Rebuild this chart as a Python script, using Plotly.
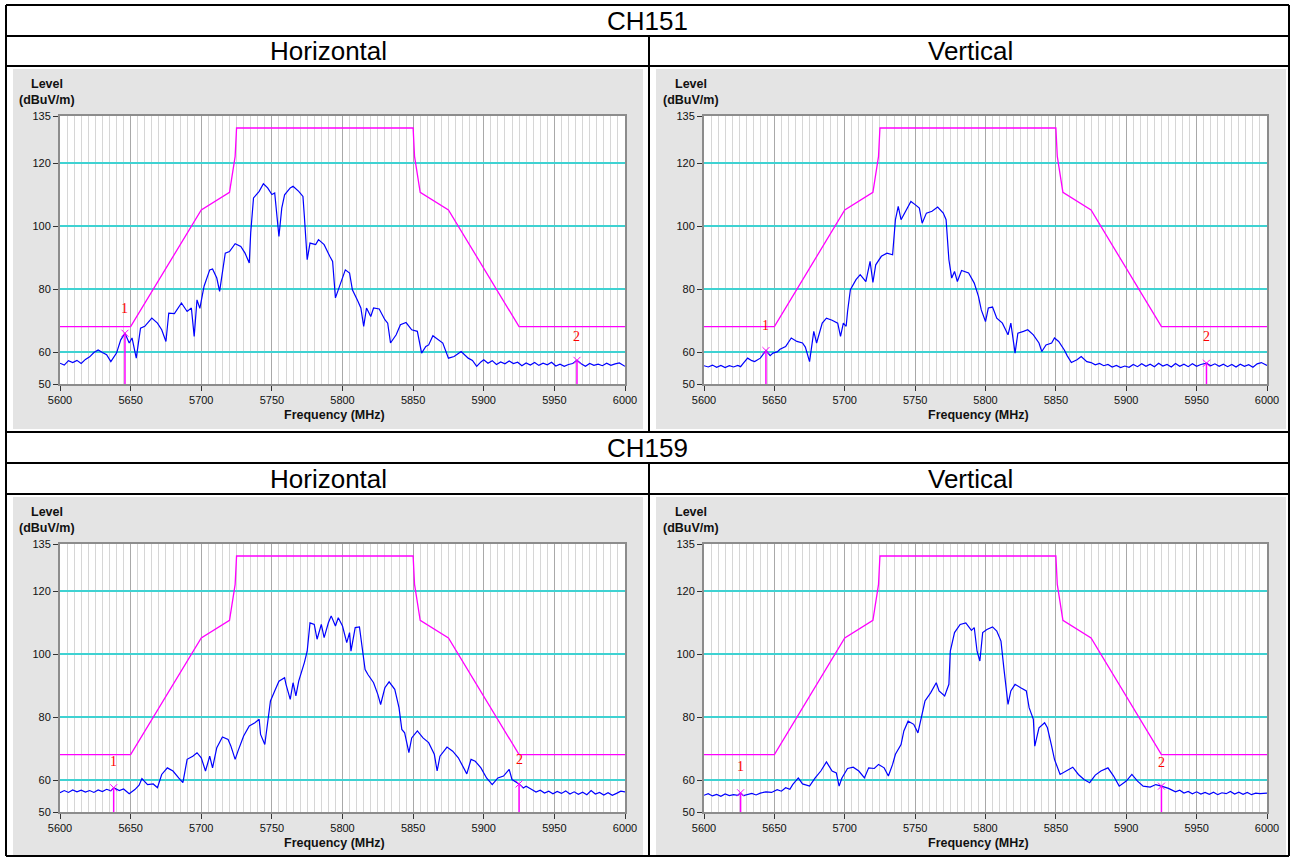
import plotly.graph_objects as go

# ---------------- data ----------------
limit_freq = [5600, 5650, 5700, 5720, 5724, 5725, 5850, 5851, 5855, 5875, 5925, 6000]
limit_level = [68.2, 68.2, 105.2, 110.8, 122.2, 131.2, 131.2, 122.2, 110.8, 105.2, 68.2, 68.2]

h151_freq = [5600, 5603, 5606, 5609, 5612, 5615, 5618, 5621, 5624, 5627, 5630, 5633, 5636, 5638, 5640, 5643, 5646, 5649, 5651, 5654,
             5657, 5660, 5665, 5669, 5672, 5675, 5677, 5681, 5686, 5690, 5693, 5695, 5697, 5699, 5702, 5706, 5708, 5711, 5713, 5717,
             5720, 5724, 5728, 5731, 5734, 5735, 5737, 5741, 5744, 5747, 5750, 5752, 5754, 5755, 5757, 5759, 5763, 5765, 5769, 5772,
             5773, 5775, 5777, 5781, 5783, 5787, 5791, 5793, 5795, 5798, 5802, 5805, 5807, 5811, 5813, 5815, 5817, 5820, 5822, 5826,
             5830, 5832, 5834, 5838, 5841, 5845, 5849, 5853, 5856, 5859, 5861, 5864, 5868, 5871, 5875, 5879, 5884, 5889, 5892, 5895,
             5898, 5900, 5903, 5906, 5909, 5912, 5915, 5918, 5921, 5924, 5927, 5930, 5933, 5936, 5939, 5942, 5945, 5948, 5951, 5954,
             5957, 5960, 5963, 5966, 5969, 5972, 5975, 5978, 5981, 5984, 5987, 5990, 5993, 5996, 6000]
h151_level = [56.6, 56.0, 57.4, 56.8, 57.5, 56.5, 57.8, 58.6, 60.0, 60.8, 60.0, 59.3, 57.1, 58.6, 59.8, 64.0, 66.1, 63.0, 64.6, 58.2,
              67.7, 68.3, 70.9, 69.3, 67.2, 63.5, 72.5, 72.3, 75.7, 73.0, 74.1, 65.1, 76.7, 74.0, 81.0, 86.2, 86.5, 83.6, 79.4, 91.5,
              92.0, 94.5, 93.6, 91.5, 88.4, 97.9, 109.0, 111.1, 113.5, 112.2, 110.1, 110.6, 101.0, 96.8, 105.8, 110.0, 112.2, 112.7, 111.1, 109.5,
              103.2, 89.4, 94.7, 94.2, 95.8, 94.2, 90.5, 88.9, 77.3, 81.0, 86.2, 85.2, 79.9, 76.2, 74.1, 68.3, 74.1, 71.4, 74.1, 73.8,
              70.4, 69.3, 63.0, 65.6, 68.8, 69.5, 67.2, 66.7, 59.8, 61.9, 62.4, 65.3, 64.0, 63.0, 58.2, 58.7, 60.3, 58.2, 57.5, 55.6,
              57.0, 57.7, 56.6, 57.4, 56.2, 57.0, 56.4, 57.3, 56.5, 56.9, 55.8, 56.7, 56.0, 56.8, 55.9, 56.6, 56.1, 56.9, 55.7, 56.3,
              55.6, 56.2, 56.5, 57.5, 56.4, 55.6, 56.5, 55.9, 56.3, 55.8, 56.6, 55.9, 56.4, 56.7, 55.6]

v151_freq = [5600, 5603, 5606, 5609, 5612, 5615, 5618, 5621, 5624, 5626, 5628, 5631, 5634, 5636, 5640, 5644, 5647, 5649, 5652, 5654,
             5658, 5662, 5666, 5670, 5672, 5675, 5678, 5680, 5684, 5687, 5691, 5695, 5697, 5699, 5701, 5702, 5704, 5708, 5711, 5715,
             5718, 5720, 5722, 5726, 5730, 5734, 5736, 5738, 5740, 5743, 5747, 5750, 5753, 5755, 5758, 5762, 5766, 5770, 5772, 5774,
             5776, 5778, 5780, 5783, 5788, 5792, 5795, 5797, 5800, 5802, 5805, 5808, 5812, 5816, 5818, 5821, 5823, 5827, 5830, 5834,
             5838, 5840, 5843, 5847, 5849, 5852, 5856, 5858, 5861, 5865, 5868, 5872, 5875, 5878, 5881, 5884, 5887, 5890, 5893, 5896,
             5899, 5902, 5905, 5908, 5911, 5914, 5917, 5920, 5923, 5926, 5929, 5932, 5935, 5938, 5941, 5944, 5947, 5950, 5953, 5957,
             5960, 5963, 5966, 5969, 5972, 5975, 5978, 5981, 5984, 5987, 5990, 5993, 5996, 6000]
v151_level = [55.8, 55.4, 56.0, 55.3, 55.9, 55.2, 55.8, 55.4, 55.9, 55.5, 56.6, 58.2, 57.4, 57.1, 58.2, 60.6, 59.0, 59.8, 60.2, 61.0,
              61.9, 64.6, 63.5, 63.0, 61.7, 57.1, 66.7, 63.0, 69.3, 70.9, 70.2, 69.3, 65.1, 69.3, 68.3, 73.0, 79.9, 83.1, 84.7, 82.5,
              88.9, 82.2, 87.8, 90.5, 91.5, 91.0, 102.1, 106.3, 102.1, 104.8, 107.9, 106.9, 105.8, 101.0, 104.2, 104.8, 106.1, 104.2, 102.1, 89.4,
              83.6, 85.7, 82.5, 86.0, 85.2, 82.0, 77.8, 73.5, 69.8, 74.1, 74.4, 70.9, 69.3, 65.6, 69.3, 59.8, 66.1, 66.7, 67.2, 65.6,
              63.0, 60.3, 62.4, 63.0, 64.6, 63.5, 60.8, 59.0, 56.8, 57.7, 58.7, 57.1, 56.8, 56.1, 56.5, 55.8, 56.2, 55.4, 55.9, 55.2,
              55.7, 55.3, 56.2, 55.5, 56.4, 55.6, 56.3, 55.5, 56.6, 55.7, 56.2, 55.4, 56.5, 55.6, 56.3, 55.5, 56.4, 55.6, 56.2, 56.6,
              55.8, 56.4, 55.6, 56.3, 55.5, 56.2, 55.4, 56.3, 55.6, 56.1, 55.3, 56.4, 56.8, 55.9]

h159_freq = [5600, 5603, 5606, 5609, 5612, 5615, 5618, 5621, 5624, 5627, 5630, 5633, 5636, 5638, 5642, 5645, 5649, 5653, 5656, 5658,
             5662, 5666, 5669, 5672, 5676, 5680, 5684, 5687, 5690, 5694, 5697, 5700, 5703, 5706, 5708, 5711, 5715, 5719, 5721, 5724,
             5726, 5730, 5734, 5738, 5741, 5742, 5745, 5747, 5749, 5752, 5755, 5759, 5760, 5763, 5765, 5767, 5769, 5773, 5775, 5777,
             5780, 5782, 5785, 5787, 5790, 5792, 5795, 5797, 5800, 5803, 5805, 5806, 5809, 5812, 5814, 5816, 5818, 5822, 5825, 5827,
             5830, 5833, 5837, 5840, 5842, 5844, 5847, 5849, 5853, 5857, 5861, 5865, 5867, 5869, 5874, 5878, 5882, 5886, 5888, 5891,
             5894, 5898, 5902, 5906, 5910, 5914, 5918, 5920, 5923, 5925, 5928, 5930, 5934, 5937, 5940, 5943, 5946, 5949, 5952, 5955,
             5958, 5961, 5964, 5967, 5970, 5973, 5976, 5979, 5982, 5985, 5988, 5991, 5994, 5997, 6000]
h159_level = [56.1, 56.8, 56.2, 57.0, 56.4, 56.9, 56.3, 56.8, 56.2, 57.0, 56.5, 57.2, 56.7, 57.7, 56.8, 57.3, 55.8, 57.1, 58.5, 60.6,
              58.7, 58.9, 57.7, 61.9, 64.0, 63.0, 60.8, 59.3, 66.7, 67.7, 68.8, 67.2, 63.0, 67.7, 64.0, 70.4, 73.8, 73.0, 70.9, 66.7,
              69.3, 74.1, 77.3, 78.3, 79.4, 74.6, 71.4, 78.3, 85.2, 88.4, 91.5, 92.6, 90.5, 85.7, 91.0, 86.8, 91.5, 97.4, 101.0, 110.0,
              109.5, 104.8, 109.5, 105.3, 110.0, 112.2, 109.0, 111.6, 109.0, 103.7, 106.9, 101.0, 108.5, 108.7, 101.0, 95.2, 93.6, 91.0, 87.3, 84.1,
              89.4, 91.3, 88.9, 83.1, 76.2, 75.1, 68.8, 73.5, 75.7, 73.5, 72.0, 68.3, 63.0, 67.7, 70.6, 69.3, 67.2, 64.0, 62.1, 66.7,
              66.1, 64.0, 60.8, 58.7, 60.8, 61.4, 63.5, 60.3, 59.3, 58.9, 57.6, 58.2, 57.1, 56.3, 56.9, 56.0, 56.6, 55.8, 56.5, 55.9,
              56.7, 55.7, 56.4, 55.6, 56.3, 55.5, 56.8, 55.7, 56.2, 55.4, 56.1, 55.3, 55.9, 56.6, 56.4]

v159_freq = [5600, 5603, 5606, 5609, 5612, 5615, 5618, 5621, 5624, 5626, 5628, 5631, 5634, 5637, 5640, 5644, 5648, 5652, 5655, 5658,
             5661, 5663, 5667, 5670, 5675, 5679, 5683, 5687, 5691, 5694, 5696, 5698, 5702, 5706, 5710, 5714, 5717, 5721, 5724, 5728,
             5731, 5734, 5736, 5740, 5742, 5745, 5749, 5752, 5754, 5757, 5761, 5765, 5767, 5771, 5774, 5775, 5778, 5782, 5786, 5790,
             5792, 5794, 5796, 5798, 5801, 5805, 5808, 5811, 5813, 5816, 5818, 5821, 5825, 5829, 5831, 5834, 5835, 5838, 5842, 5844,
             5847, 5849, 5853, 5857, 5862, 5866, 5870, 5874, 5878, 5882, 5887, 5891, 5895, 5900, 5904, 5908, 5912, 5917, 5921, 5925,
             5930, 5935, 5938, 5941, 5944, 5947, 5950, 5953, 5956, 5959, 5962, 5965, 5968, 5971, 5974, 5977, 5980, 5983, 5986, 5989,
             5992, 5995, 6000]
v159_level = [55.3, 55.8, 55.1, 55.6, 55.0, 55.7, 55.2, 55.5, 55.3, 56.1, 55.2, 55.6, 55.9, 55.4, 56.0, 56.4, 56.2, 57.1, 56.6, 57.7,
              57.2, 58.7, 60.8, 58.9, 58.2, 60.8, 63.0, 65.9, 63.0, 62.4, 58.2, 60.8, 63.8, 64.2, 63.0, 60.8, 64.0, 63.8, 65.1, 64.0,
              61.4, 65.1, 68.3, 71.4, 75.7, 78.8, 77.8, 75.1, 79.4, 85.2, 87.8, 91.0, 88.4, 86.8, 90.5, 101.0, 106.9, 109.5, 110.0, 107.6,
              108.5, 101.0, 97.9, 106.9, 107.9, 108.7, 107.4, 104.2, 95.8, 84.1, 88.4, 90.5, 89.4, 88.4, 83.1, 79.4, 70.9, 76.7, 78.3, 76.7,
              70.9, 66.7, 61.9, 63.0, 64.2, 61.9, 60.3, 59.3, 61.7, 63.0, 64.0, 61.4, 58.2, 59.8, 61.9, 59.8, 58.2, 57.9, 58.7, 58.2,
              57.5, 56.4, 56.9, 56.0, 56.5, 55.8, 56.4, 55.7, 56.2, 55.6, 56.3, 55.5, 56.1, 55.8, 56.5, 55.7, 56.3, 55.6, 56.2, 55.5,
              56.0, 55.8, 56.0]

# markers: (freq, level, label, label_level)
h151_markers = [(5646, 66.1, "1", 74.0), (5966, 57.5, "2", 65.2)]
v151_markers = [(5644, 60.6, "1", 68.4), (5957, 56.6, "2", 65.0)]
h159_markers = [(5638, 57.7, "1", 65.9), (5925, 58.9, "2", 66.5)]
v159_markers = [(5626, 56.1, "1", 64.3), (5925, 58.2, "2", 65.6)]

y_ticks = [50, 60, 80, 100, 120, 135]
row_titles = ["CH151", "CH159"]
col_titles = ["Horizontal", "Vertical"]

# ---------------- layout ----------------
W, H = 1293, 857


def fx(px):
    return px / W


def fy(py):
    return 1 - py / H


panels = [
    dict(freq=h151_freq, level=h151_level, markers=h151_markers, plot=(60, 625, 116, 384), gray=(13, 69, 643, 429)),
    dict(freq=v151_freq, level=v151_level, markers=v151_markers, plot=(704, 1267, 116, 384), gray=(656, 69, 1286, 429)),
    dict(freq=h159_freq, level=h159_level, markers=h159_markers, plot=(60, 625, 544, 812), gray=(13, 497, 643, 855)),
    dict(freq=v159_freq, level=v159_level, markers=v159_markers, plot=(704, 1267, 544, 812), gray=(656, 497, 1286, 855)),
]

fig = go.Figure()
shapes = []
annotations = []
layout_axes = {}
tick_font = dict(family="Liberation Sans, Arial", size=11, color="#111")
lab_font = dict(family="Liberation Sans, Arial", size=12.5, color="#111")

for i, p in enumerate(panels):
    n = "" if i == 0 else str(i + 1)
    xa, ya = "x" + n, "y" + n
    x0, x1, y0, y1 = p["plot"]
    gx0, gy0, gx1, gy1 = p["gray"]
    shapes.append(dict(type="rect", xref="paper", yref="paper", x0=fx(gx0), x1=fx(gx1), y0=fy(gy1), y1=fy(gy0),
                       fillcolor="#e4e4e4", line=dict(width=0), layer="below"))
    shapes.append(dict(type="rect", xref="paper", yref="paper", x0=fx(x0), x1=fx(x1), y0=fy(y1), y1=fy(y0),
                       fillcolor="white", line=dict(width=0), layer="below"))

    layout_axes["xaxis" + n] = dict(
        domain=[fx(x0), fx(x1)], anchor=ya, range=[5600, 6000], tick0=5600, dtick=50,
        showgrid=True, gridcolor="#a9a9a9", gridwidth=1,
        minor=dict(tick0=5600, dtick=5, showgrid=True, gridcolor="#d6d6d6", gridwidth=1),
        showline=True, mirror=True, linecolor="#8c8c8c", linewidth=2,
        ticks="outside", ticklen=5, tickcolor="#333", tickfont=tick_font,
        zeroline=False, fixedrange=True, automargin=False)
    layout_axes["yaxis" + n] = dict(
        domain=[fy(y1), fy(y0)], anchor=xa, range=[50, 135], tickmode="array", tickvals=y_ticks,
        showgrid=True, gridcolor="#3fd2d2", gridwidth=2,
        showline=True, mirror=True, linecolor="#8c8c8c", linewidth=2,
        ticks="outside", ticklen=5, tickcolor="#333", tickfont=tick_font,
        zeroline=False, fixedrange=True, automargin=False)

    fig.add_trace(go.Scatter(x=limit_freq, y=limit_level, mode="lines", xaxis=xa, yaxis=ya,
                             line=dict(color="#ff00ff", width=1.3), hoverinfo="skip", showlegend=False))
    fig.add_trace(go.Scatter(x=p["freq"], y=p["level"], mode="lines", xaxis=xa, yaxis=ya,
                             line=dict(color="#0000ff", width=1.2), showlegend=False))
    for (mf, mv, lab, ll) in p["markers"]:
        fig.add_trace(go.Scatter(x=[mf, mf], y=[50, mv], mode="lines", xaxis=xa, yaxis=ya,
                                 line=dict(color="#ff00ff", width=1.5), hoverinfo="skip", showlegend=False))
        fig.add_trace(go.Scatter(x=[mf], y=[mv], mode="markers", xaxis=xa, yaxis=ya,
                                 marker=dict(symbol="x-thin-open", size=7, color="#ff00ff",
                                             line=dict(color="#ff00ff", width=1)),
                                 hoverinfo="skip", showlegend=False))
        annotations.append(dict(x=mf, y=ll, xref=xa, yref=ya, text=lab, showarrow=False,
                                xanchor="center", yanchor="middle",
                                font=dict(family="Liberation Serif, Times New Roman", size=14, color="#ff0000")))

    fcx = x0 + 274
    lx = x0 - 13
    annotations.append(dict(x=fx(lx), y=fy(y0 - 32), xref="paper", yref="paper", text="<b>Level</b>", showarrow=False,
                            xanchor="center", yanchor="middle", font=lab_font))
    annotations.append(dict(x=fx(lx), y=fy(y0 - 16), xref="paper", yref="paper", text="<b>(dBuV/m)</b>", showarrow=False,
                            xanchor="center", yanchor="middle", font=lab_font))
    annotations.append(dict(x=fx(fcx), y=fy(y1 + 31), xref="paper", yref="paper", text="<b>Frequency (MHz)</b>",
                            showarrow=False, xanchor="center", yanchor="middle", font=lab_font))

# table lines
lw = 2
for yy in [5, 36, 66, 432, 463, 494, 856]:
    shapes.append(dict(type="line", xref="paper", yref="paper", x0=fx(6), x1=fx(1289), y0=fy(yy), y1=fy(yy),
                       line=dict(color="black", width=lw)))
for xx in [6, 1289]:
    shapes.append(dict(type="line", xref="paper", yref="paper", x0=fx(xx), x1=fx(xx), y0=fy(5), y1=fy(856),
                       line=dict(color="black", width=lw)))
for (ya_, yb_) in [(36, 432), (463, 856)]:
    shapes.append(dict(type="line", xref="paper", yref="paper", x0=fx(649), x1=fx(649), y0=fy(ya_), y1=fy(yb_),
                       line=dict(color="black", width=lw)))

hdr_font = dict(family="Liberation Sans, Arial", size=26, color="black")
for r, (ty, sy) in enumerate([(21, 51), (448, 479)]):
    annotations.append(dict(x=fx(647), y=fy(ty), xref="paper", yref="paper", text=row_titles[r], showarrow=False,
                            xanchor="center", yanchor="middle", font=hdr_font))
    annotations.append(dict(x=fx(328), y=fy(sy), xref="paper", yref="paper", text=col_titles[0], showarrow=False,
                            xanchor="center", yanchor="middle", font=hdr_font))
    annotations.append(dict(x=fx(970), y=fy(sy), xref="paper", yref="paper", text=col_titles[1], showarrow=False,
                            xanchor="center", yanchor="middle", font=hdr_font))

fig.update_layout(width=W, height=H, margin=dict(l=0, r=0, t=0, b=0, pad=0, autoexpand=False),
                  paper_bgcolor="white", plot_bgcolor="rgba(0,0,0,0)",
                  shapes=shapes, annotations=annotations, showlegend=False, **layout_axes)

fig.write_html("out.html", config={"displayModeBar": False},
               post_script="document.body.style.margin='0px';document.body.style.padding='0px';")
